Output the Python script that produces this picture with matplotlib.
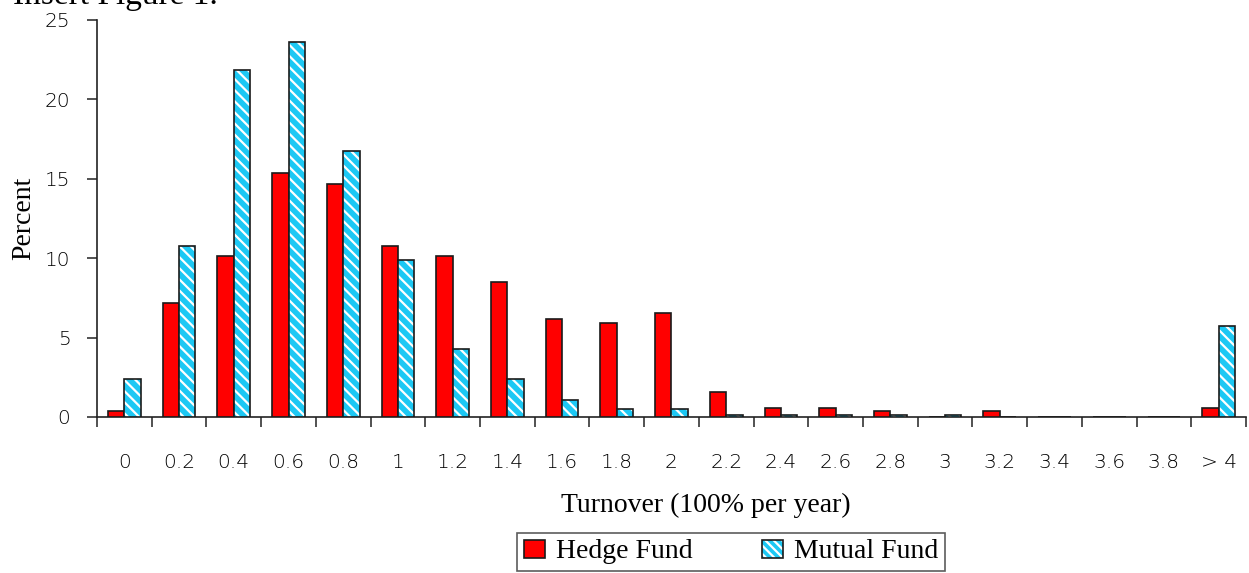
import numpy as np
import matplotlib
matplotlib.use("Agg")
import matplotlib.pyplot as plt
from matplotlib.patches import Patch

# Data
categories = ["0", "0.2", "0.4", "0.6", "0.8", "1", "1.2", "1.4", "1.6", "1.8", "2",
              "2.2", "2.4", "2.6", "2.8", "3", "3.2", "3.4", "3.6", "3.8", "> 4"]
hedge = [0.38, 7.2, 10.15, 15.36, 14.67, 10.75, 10.15, 8.5, 6.17, 5.94, 6.57,
         1.6, 0.59, 0.59, 0.38, 0.0, 0.38, 0.0, 0.0, 0.0, 0.59]
mutual = [2.4, 10.77, 21.85, 23.6, 16.77, 9.9, 4.28, 2.4, 1.07, 0.52, 0.52,
          0.13, 0.13, 0.13, 0.13, 0.13, 0.0, 0.0, 0.0, 0.0, 5.73]

plt.rcParams['font.family'] = ['Liberation Serif', 'DejaVu Serif']
plt.rcParams['hatch.linewidth'] = 1.6

red = '#FF0000'
cyan = '#1CC8F4'
edge = '#1a1a1a'
tickfont = dict(family='DejaVu Sans', size=14.5, weight='light')

fig = plt.figure(figsize=(12.49, 5.73), dpi=100)
ax = fig.add_axes([97/1249, (573-417)/573, (1246-97)/1249, (417-20)/573])

x = np.arange(len(categories)) + 0.5
w = 0.3

# hedge fund bars
ax.bar(x - w/2, hedge, w, color=red, edgecolor=edge, linewidth=1.2, zorder=3)

# mutual fund bars: hatched fill, then outline on top
ax.bar(x + w/2, mutual, w, color=cyan, edgecolor='white', hatch='\\\\\\',
       linewidth=0, zorder=3)
ax.bar(x + w/2, mutual, w, color='none', edgecolor=edge, linewidth=1.2, zorder=4)

ax.set_xlim(0, len(categories))
ax.set_ylim(0, 25)
ax.set_yticks([0, 5, 10, 15, 20, 25])
ax.set_yticklabels([str(v) for v in [0, 5, 10, 15, 20, 25]], fontdict=tickfont)

# tick marks on category boundaries, labels on centres
ax.set_xticks(np.arange(len(categories) + 1))
ax.set_xticklabels([])
ax.set_xticks(x, minor=True)
ax.set_xticklabels(categories, minor=True, fontdict=tickfont)
ax.tick_params(axis='x', which='major', direction='out', length=7.2, width=1.2, color='#333333')
ax.tick_params(axis='x', which='minor', length=0, pad=26)
ax.tick_params(axis='y', direction='out', length=7.2, width=1.2, color='#333333', pad=12)

for s in ['top', 'right']:
    ax.spines[s].set_visible(False)
for s in ['left', 'bottom']:
    ax.spines[s].set_linewidth(1.2)
    ax.spines[s].set_color('#222222')

ax.set_ylabel("Percent", fontsize=20, va='center', ha='center')
ax.yaxis.set_label_coords((24-97)/1149, (417-218)/397)
ax.set_xlabel("Turnover (100% per year)", fontsize=20, va='baseline')
ax.xaxis.set_label_coords((706-97)/1149, (417-512)/397)

h1 = Patch(facecolor=red, edgecolor=edge, linewidth=1.2)
h2a = Patch(facecolor=cyan, edgecolor='white', hatch='\\\\\\\\', linewidth=0)
h2b = Patch(facecolor='none', edgecolor=edge, linewidth=1.2)
leg = fig.legend([h1, (h2a, h2b)], ["Hedge Fund", "Mutual Fund"],
                 loc='center', bbox_to_anchor=(731/1249, 1 - 552/573), ncol=2,
                 fontsize=20, frameon=True, fancybox=False, borderpad=0.25,
                 handlelength=0.75, handleheight=0.6, handletextpad=0.4,
                 columnspacing=2.5, borderaxespad=0.0)
leg.get_frame().set_edgecolor('#333333')
leg.get_frame().set_linewidth(1.2)

# cropped heading from the source document
fig.text(13/1249, 1.008, "Insert Figure 1.", fontsize=24, ha='left', va='center')

fig.savefig("out.png", dpi=100)
